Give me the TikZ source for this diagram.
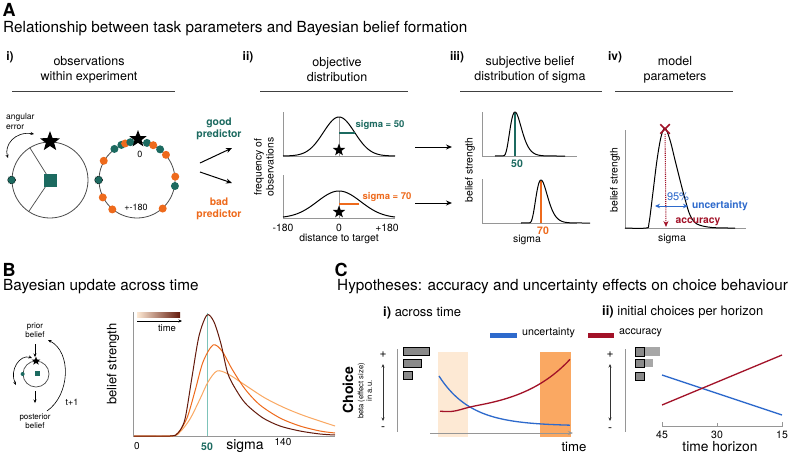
\documentclass[tikz,border=0pt]{standalone}
\usepackage{fontspec}
\setmainfont{TeX Gyre Heros}
\usetikzlibrary{arrows.meta, shapes.geometric, shapes.misc, positioning, calc}
\definecolor{TealDark}{RGB}{28,106,96}
\definecolor{TealLight}{RGB}{125,195,185}
\definecolor{OrangeMid}{RGB}{238,106,28}
\definecolor{OrangeSoft}{RGB}{250,168,98}
\definecolor{PeachLight}{RGB}{253,233,212}
\definecolor{BrownDark}{RGB}{100,26,12}
\definecolor{RedDark}{RGB}{162,18,40}
\definecolor{BlueMid}{RGB}{46,106,204}
\definecolor{AxisGray}{RGB}{150,150,150}
\definecolor{BarGray}{RGB}{138,138,138}
\newcommand{\fsz}[2]{\fontsize{#1}{#2}\selectfont}

\begin{document}
\begin{tikzpicture}[x=1pt,y=-1pt,
    letter/.style={font=\fsz{18}{20}\bfseries,inner sep=0pt},
    ttl/.style={font=\fsz{15.3}{18},inner sep=0pt,anchor=west},
    sub/.style={font=\fsz{12.5}{15},inner sep=0pt,align=center},
    num/.style={font=\fsz{12}{14}\bfseries,inner sep=0pt},
    lbl/.style={font=\fsz{10.4}{12},inner sep=0pt,align=center},
    small/.style={font=\fsz{8}{9.5},inner sep=0pt,align=center},
    ax/.style={draw=AxisGray,line width=0.9pt},
    secrule/.style={line width=0.9pt,draw=black!75},
    crv/.style={line width=1pt,line join=round},
    starmark/.style={star,star points=5,star point ratio=2.4,fill=black,inner sep=0pt,minimum size=#1},
    obsdot/.style={circle,fill=#1,inner sep=0pt,minimum size=8pt},
    ring/.style={circle,draw=black!70,line width=0.8pt,inner sep=0pt,minimum size=#1},
    arr/.style={-{Stealth[length=6pt,width=5pt]},line width=1pt},
    thinarr/.style={-{Stealth[length=3.5pt,width=3pt]},line width=0.6pt},
    dblarr/.style={{Stealth[length=3.5pt,width=3pt]}-{Stealth[length=3.5pt,width=3pt]},line width=0.6pt},
    bar/.style={fill=BarGray,draw=black,line width=0.9pt}
  ]
  \fill[white] (0,0) rectangle (800,456);
  \useasboundingbox (0,0) rectangle (800,456);

  % Panel A
  \node[letter] (pa) at (9,10) {A};
  \node[ttl] (tta) at (3,29) {Relationship between task parameters and Bayesian belief formation};

  % i) observations
  \node[num] (ni) at (10,57) {i)};
  \node[sub] (sti) at (89,70) {observations\\within experiment};
  \draw[secrule] (12,91) -- (175,91);
  \node[ring=76pt] (ca) at (50,180) {};
  \draw[black!70,line width=0.7pt] (ca.center) -- (ca.122);
  \draw[black!70,line width=0.7pt] (ca.center) -- (ca.236);
  \node[fill=TealDark,minimum size=13pt,inner sep=0pt] (sqa) at (ca.center) {};
  \node[starmark=21pt] (sta) at (ca.north) {};
  \node[obsdot=TealDark,draw=black,densely dotted,line width=0.7pt] (oa) at (ca.west) {};
  \node[lbl,font=\fsz{8.5}{10},align=left,anchor=north west] (aer) at (6,113) {angular\\error};
  \coordinate (ae1) at (34,134);
  \coordinate (ae2) at (8,158);
  \draw[dblarr] (ae1) .. controls (15,131) and (4,145) .. (ae2);

  \node[ring=76pt] (cb) at (137,180) {};
  \foreach \ang/\col [count=\i] in {126/TealDark,114/TealDark,108/OrangeMid,100/TealDark,75/TealDark,65/OrangeMid,53/TealDark,41/OrangeMid,150/OrangeMid,5/OrangeMid,351/TealDark,207/OrangeMid,230/OrangeMid,312/OrangeMid}
    \node[obsdot=\col] (ob\i) at (cb.\ang) {};
  \node[obsdot=TealDark,draw=black,densely dotted,line width=0.7pt] (ob0) at (cb.west) {};
  \node[starmark=18pt] (stb) at (138,139) {};
  \node[lbl,font=\fsz{9}{10}] (zr) at (140,154) {0};
  \node[lbl,font=\fsz{9}{10}] (pm) at (136,207) {+-180};

  % predictors
  \node[font=\fsz{10.4}{12.5}\bfseries,text=TealDark,align=center,inner sep=0pt] (gp) at (219,129) {good\\predictor};
  \node[font=\fsz{10.4}{12.5}\bfseries,text=OrangeMid,align=center,inner sep=0pt] (bp) at (219,209) {bad\\predictor};
  \coordinate (g0) at (200,163); \coordinate (g1) at (232,148);
  \coordinate (b0) at (200,172); \coordinate (b1) at (232,183);
  \draw[arr] (g0) -- (g1); \draw[arr] (b0) -- (b1);

  % ii) objective distribution
  \node[num] (nii) at (248,57) {ii)};
  \node[sub] (stii) at (337,70) {objective\\distribution};
  \draw[secrule] (260,91) -- (408,91);
  \draw[ax] (283,112) -- (283,156) -- (395,156);
  \draw[ax] (339,117) -- (339,156);
  \draw[crv] plot[domain=-56:56,samples=81] ({339+\x},{156-39*exp(-0.5*(\x/15.6)*(\x/15.6))});
  \draw[TealDark,line width=1.4pt] (339,133) -- (355,133);
  \node[starmark=13pt] (sti1) at (339,150) {};
  \node[lbl,font=\fsz{9.5}{11}\bfseries,text=TealDark] (sg1) at (380,125) {sigma = 50};
  \draw[ax] (283,175) -- (283,218) -- (395,218);
  \draw[ax] (339,191) -- (339,218);
  \draw[crv] plot[domain=-56:56,samples=81] ({339+\x},{218-27*exp(-0.5*(\x/21.8)*(\x/21.8))});
  \draw[OrangeMid,line width=1.4pt] (339,204) -- (359,204);
  \node[starmark=13pt] (sti2) at (339,212) {};
  \node[lbl,font=\fsz{9.5}{11}\bfseries,text=OrangeMid] (sg2) at (387,197) {sigma = 70};
  \node[lbl] (tk1) at (283,228) {-180};
  \node[lbl] (tk2) at (339,228) {0};
  \node[lbl] (tk3) at (387,228) {+180};
  \node[lbl] (xlii) at (339,239) {distance to target};
  \node[lbl,rotate=90] (ylii) at (264,167) {frequency of\\observations};
  \coordinate (h0) at (415,147); \coordinate (h1) at (452,147);
  \coordinate (k0) at (415,203); \coordinate (k1) at (452,203);
  \draw[arr] (h0) -- (h1); \draw[arr] (k0) -- (k1);

  % iii) subjective belief
  \node[num] (niii) at (457,57) {iii)};
  \node[sub] (stiii) at (530,70) {subjective belief\\distribution of sigma};
  \draw[secrule] (460,91) -- (602,91);
  \draw[ax] (482,112) -- (482,156) -- (577,156);
  \draw[TealDark,line width=1.4pt] (515,113) -- (515,156);
  \draw[crv] (495,156) -- plot[domain=2:55,samples=100] ({502+\x},{156-44*exp(5*(ln(\x/13)+1-\x/13))}) -- (565,156);
  \node[num,font=\fsz{10.5}{12}\bfseries,text=TealDark] (v50) at (517,164) {50};
  \draw[ax] (482,179) -- (482,223) -- (577,223);
  \draw[OrangeMid,line width=1.4pt] (541,181) -- (541,223);
  \draw[crv] (521,223) -- plot[domain=2:55,samples=100] ({528+\x},{223-43*exp(5*(ln(\x/13)+1-\x/13))}) -- (590,223);
  \node[num,font=\fsz{10.5}{12}\bfseries,text=OrangeMid] (v70) at (543,231) {70};
  \node[lbl] (xliii) at (527,240) {sigma};
  \node[lbl,rotate=90] (yliii) at (470,170) {belief strength};

  % iv) model parameters
  \node[num] (niv) at (615,57) {iv)};
  \node[sub] (stiv) at (675,70) {model\\parameters};
  \draw[secrule] (615,91) -- (733,91);
  \draw[ax] (625,130) -- (625,228) -- (746,228);
  \draw[crv] plot[smooth,tension=0.55] coordinates {(625,228) (646,228) (649,223) (653,192) (657,160) (661,137) (665,128) (670,140) (675,160) (680,180) (685,199) (690,215) (697,224) (712,227.5) (735,228)};
  \node[cross out,draw=RedDark,line width=1.5pt,minimum size=8pt,inner sep=0pt] (pk) at (665,129) {};
  \coordinate (acc) at (666,227);
  \draw[RedDark,densely dotted,line width=1.1pt,-{Stealth[length=6pt,width=5pt]}] (pk) -- (acc);
  \coordinate (u0) at (655,206); \coordinate (u1) at (688,206);
  \draw[BlueMid,line width=1pt,{Stealth[length=5pt,width=4.5pt]}-{Stealth[length=5pt,width=4.5pt]}] (u0) -- (u1);
  \node[lbl,font=\fsz{11}{12},text=BlueMid] (pc) at (678,197) {95\%};
  \node[lbl,font=\fsz{10.3}{12}\bfseries,text=BlueMid] (unc) at (720,206) {uncertainty};
  \node[lbl,font=\fsz{10.3}{12}\bfseries,text=RedDark] (accl) at (698,222) {accuracy};
  \node[lbl] (xliv) at (672,239) {sigma};
  \node[lbl,rotate=90] (yliv) at (615,180) {belief strength};

  % Panel B
  \node[letter] (pb) at (9,270) {B};
  \node[ttl] (ttb) at (3,287) {Bayesian update across time};
  \node[small] (pri) at (35,330) {prior\\belief};
  \coordinate (p0) at (35,344); \coordinate (p1) at (35,357);
  \draw[thinarr] (p0) -- (p1);
  \node[ring=26pt,line width=0.7pt] (cc) at (36,374) {};
  \node[starmark=9pt] (stc) at (36,361) {};
  \node[fill=TealDark,minimum size=5pt,inner sep=0pt] (sqc) at (37,373) {};
  \node[circle,fill=TealDark,minimum size=4pt,inner sep=0pt] (odc) at (cc.west) {};
  \coordinate (e0) at (32,358); \coordinate (e1) at (16,385);
  \draw[dblarr] (e0) .. controls (20,354) and (9,370) .. (e1);
  \coordinate (q0) at (35,391); \coordinate (q1) at (35,403);
  \draw[thinarr] (q0) -- (q1);
  \node[small] (post) at (35,421) {posterior\\belief};
  \coordinate (t0) at (47,411); \coordinate (t1) at (48,340);
  \draw[thinarr] (t0) .. controls (70,395) and (72,352) .. (t1);
  \node[small,font=\fsz{9}{10}] (tp1) at (72,402) {t+1};

  \draw[ax] (133,312) -- (133,436) -- (335,436);
  \draw[TealLight,line width=0.8pt] (207,313) -- (207,436);
  \shade[left color=PeachLight,middle color=OrangeMid,right color=BrownDark] (137,312) rectangle (180,317);
  \coordinate (c0) at (137,321); \coordinate (c1) at (182,321);
  \draw[thinarr,line width=0.5pt] (c0) -- (c1);
  \node[small,font=\fsz{9.5}{11}] (tml) at (167,328) {time};
  \draw[OrangeSoft,line width=1pt] plot[smooth] coordinates {(134,436) (172,436) (180,432) (190,419) (200,399) (208,382) (217,371) (228,374) (245,385) (265,398) (285,408) (305,416) (335,426)};
  \draw[OrangeMid,line width=1pt] plot[smooth] coordinates {(134,436) (170,436) (178,433) (187,418) (195,391) (203,362) (213,345) (222,351) (232,369) (245,389) (260,405) (280,418) (300,426) (320,431) (335,433)};
  \draw[BrownDark,line width=1pt] plot[smooth] coordinates {(134,436) (170,436) (178,433) (185,419) (192,377) (199,336) (207,315) (214,322) (221,344) (228,374) (238,393) (247,405) (263,418) (280,426) (300,431) (320,434) (335,435)};
  \node[lbl,font=\fsz{10}{12}] (b0l) at (137,446) {0};
  \node[num,font=\fsz{10.5}{12}\bfseries,text=TealDark] (b50) at (207,447) {50};
  \node[lbl,font=\fsz{14}{16}] (bsg) at (245,446) {sigma};
  \node[lbl,font=\fsz{10}{12}] (b140) at (283,442) {140};
  \node[lbl,font=\fsz{13}{15},rotate=90] (ylb) at (113,364) {belief strength};

  % Panel C
  \node[letter] (pcl) at (341,270) {C};
  \node[ttl] (ttc) at (337,287) {Hypotheses: accuracy and uncertainty effects on choice behaviour};
  \node[ttl,font=\fsz{13}{15}] (ci) at (383,313) {\textbf{i)} across time};
  \node[ttl,font=\fsz{13}{15}] (cii) at (602,312) {\textbf{ii)} initial choices per horizon};
  \coordinate (lu0) at (490,335); \coordinate (lu1) at (517,335);
  \draw[BlueMid,line width=5pt] (lu0) -- (lu1);
  \node[ttl,font=\fsz{10.7}{12}] (lgu) at (522,333) {uncertainty};
  \coordinate (la0) at (588,335); \coordinate (la1) at (614,335);
  \draw[RedDark,line width=5pt] (la0) -- (la1);
  \node[ttl,font=\fsz{10.7}{12}] (lga) at (619,333) {accuracy};

  % i) across time
  \node[font=\fsz{14}{16}\bfseries,rotate=90,inner sep=0pt] (chc) at (348,390) {Choice};
  \node[small,font=\fsz{7.6}{8.5},rotate=90] (bta) at (365,391) {beta (effect size)\\in a.u.};
  \node[lbl,font=\fsz{12}{14}] (pl1) at (383,355) {+};
  \node[lbl,font=\fsz{12}{14}] (mn1) at (383,429) {-};
  \coordinate (y0) at (383,364); \coordinate (y1) at (383,421);
  \draw[dblarr,black!80] (y0) -- (y1);
  \draw[ax] (397,349) -- (397,432);
  \draw[bar] (403,347) rectangle (429,355);
  \draw[bar] (403,359) rectangle (421,367);
  \draw[bar] (403,371) rectangle (412,379);
  \fill[PeachLight] (438,352) rectangle (468,437);
  \fill[OrangeSoft] (540,352) rectangle (571,437);
  \coordinate (x0) at (430,433); \coordinate (x1) at (573,433);
  \draw[ax,-{Stealth[length=5pt,width=4pt]}] (x0) -- (x1);
  \node[lbl,font=\fsz{13.2}{15}] (tmc) at (574,447) {time};
  \draw[BlueMid,line width=1.3pt] plot[domain=439:570,samples=60] (\x,{426-50*exp(-(\x-439)/32)});
  \draw[RedDark,line width=1.3pt] plot[domain=440:570,samples=60] (\x,{410-4.3*(exp((\x-440)/51)-1)+2.5*exp(-((\x-452)/14)*((\x-452)/14))});

  % ii) initial choices per horizon
  \node[lbl,font=\fsz{12}{14}] (pl2) at (610,355) {+};
  \node[lbl,font=\fsz{12}{14}] (mn2) at (610,430) {-};
  \coordinate (z0) at (610,364); \coordinate (z1) at (610,421);
  \draw[dblarr,black!80] (z0) -- (z1);
  \draw[ax] (625,349) -- (625,432);
  \fill[BarGray!75] (635,347) rectangle (660,356);
  \fill[BarGray!75] (635,359) rectangle (653,367);
  \draw[bar] (635,347) rectangle (644,356);
  \draw[bar] (635,359) rectangle (644,367);
  \draw[bar] (635,372) rectangle (644,380);
  \coordinate (hb0) at (662,375); \coordinate (hb1) at (782,415);
  \coordinate (hr0) at (662,405); \coordinate (hr1) at (782,355);
  \draw[BlueMid,line width=1.3pt] (hb0) -- (hb1);
  \draw[RedDark,line width=1.3pt] (hr0) -- (hr1);
  \draw[ax] (662,422) -- (662,426) -- (782,426) -- (782,422);
  \draw[ax] (717,426) -- (717,423);
  \node[lbl,font=\fsz{10.5}{12}] (h45) at (662,435) {45};
  \node[lbl,font=\fsz{10.5}{12}] (h30) at (717,435) {30};
  \node[lbl,font=\fsz{10.5}{12}] (h15) at (782,435) {15};
  \node[lbl,font=\fsz{13.8}{16}] (thz) at (720,447) {time horizon};
\end{tikzpicture}
\end{document}
